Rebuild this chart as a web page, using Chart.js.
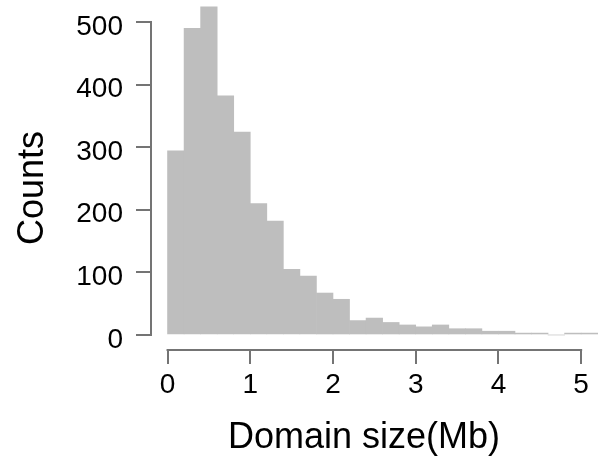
<!DOCTYPE html>
<html>
<head>
<meta charset="utf-8">
<title>Domain size histogram</title>
<script src="https://cdn.jsdelivr.net/npm/chart.js@4.4.1/dist/chart.umd.min.js"></script>
<style>
  html, body { margin: 0; padding: 0; background: #ffffff; }
  canvas { display: block; }
</style>
</head>
<body>
<canvas id="hist" width="601" height="476"></canvas>
<script>
// Histogram bins (Mb, bin centres, 0.2 Mb wide) and counts per bin
const binCentres = [0.1, 0.3, 0.5, 0.7, 0.9, 1.1, 1.3, 1.5, 1.7, 1.9,
                    2.1, 2.3, 2.5, 2.7, 2.9, 3.1, 3.3, 3.5, 3.7, 3.9,
                    4.1, 4.3, 4.5, 4.7, 4.9, 5.1];
const counts = [294, 490, 524, 382, 324, 210, 182, 105, 94, 67,
                57, 23, 27, 20, 16, 13, 16, 10, 10, 6,
                6, 3, 3, 0, 3, 3];

// Axis ticks and titles
const xTicks = [0, 1, 2, 3, 4, 5];
const yTicks = [0, 100, 200, 300, 400, 500];
const xTitle = 'Domain size(Mb)';
const yTitle = 'Counts';

const FONT = "'Liberation Sans', Arial, Helvetica, sans-serif";
const AXIS_COLOR = '#747474';
const AXIS_WIDTH = 2;
const BAR_COLOR = '#bebebe';

Chart.defaults.font.family = FONT;
Chart.defaults.color = '#000000';

// Base-graphics style axes: lines span only the first to last tick,
// detached from the plotting region; axis titles drawn alongside.
const detachedAxes = {
  id: 'detachedAxes',
  afterDraw(chart) {
    const { ctx, chartArea, scales } = chart;
    const xs = scales.x, ys = scales.y;
    const hw = AXIS_WIDTH / 2;
    ctx.save();
    ctx.setLineDash([]);
    ctx.globalAlpha = 1;
    ctx.fillStyle = AXIS_COLOR;

    // x axis line
    const x0 = xs.getPixelForValue(xTicks[0]);
    const x1 = xs.getPixelForValue(xTicks[xTicks.length - 1]);
    ctx.fillRect(x0 - hw, chartArea.bottom - hw, x1 - x0 + AXIS_WIDTH, AXIS_WIDTH);

    // y axis line
    const y0 = ys.getPixelForValue(yTicks[0]);
    const y1 = ys.getPixelForValue(yTicks[yTicks.length - 1]);
    ctx.fillRect(chartArea.left - hw, y1 - hw, AXIS_WIDTH, y0 - y1 + AXIS_WIDTH);

    // axis titles
    ctx.fillStyle = '#000000';
    ctx.font = '36px ' + FONT;
    ctx.textAlign = 'center';
    ctx.textBaseline = 'alphabetic';
    ctx.fillText(xTitle, 364, 448);

    ctx.translate(43, 188);
    ctx.rotate(-Math.PI / 2);
    ctx.fillText(yTitle, 0, 0);
    ctx.restore();
  }
};

new Chart(document.getElementById('hist'), {
  type: 'bar',
  data: {
    datasets: [{
      label: yTitle,
      data: binCentres.map((x, i) => ({ x: x, y: counts[i] })),
      backgroundColor: BAR_COLOR,
      borderWidth: 0,
      barPercentage: 1.0,
      categoryPercentage: 1.0
    }]
  },
  options: {
    responsive: false,
    animation: false,
    events: [],
    layout: { padding: 0 },
    plugins: {
      legend: { display: false },
      tooltip: { enabled: false },
      title: { display: false }
    },
    scales: {
      x: {
        type: 'linear',
        offset: false,
        min: -0.2,
        max: 5.24,
        afterBuildTicks(scale) {
          scale.ticks = xTicks.map(v => ({ value: v }));
        },
        afterFit(scale) {
          scale.height = 126;
          scale.paddingLeft = 0;
          scale.paddingRight = 0;
        },
        border: { display: false },
        grid: {
          offset: false,
          drawOnChartArea: false,
          drawTicks: true,
          tickLength: 14,
          color: AXIS_COLOR,
          lineWidth: AXIS_WIDTH
        },
        ticks: {
          font: { size: 28 },
          color: '#000000',
          padding: 4,
          maxRotation: 0,
          autoSkip: false,
          callback: (v) => String(v)
        }
      },
      y: {
        type: 'linear',
        min: -24,
        max: 535.1,
        afterBuildTicks(scale) {
          scale.ticks = yTicks.map(v => ({ value: v }));
        },
        afterFit(scale) {
          scale.width = 151;
          scale.paddingTop = 0;
          scale.paddingBottom = 0;
        },
        border: { display: false },
        grid: {
          drawOnChartArea: false,
          drawTicks: true,
          tickLength: 15,
          color: AXIS_COLOR,
          lineWidth: AXIS_WIDTH
        },
        ticks: {
          font: { size: 28 },
          color: '#000000',
          padding: 13,
          labelOffset: 5,
          autoSkip: false,
          callback: (v) => String(v)
        }
      }
    }
  },
  plugins: [detachedAxes]
});
</script>
</body>
</html>
